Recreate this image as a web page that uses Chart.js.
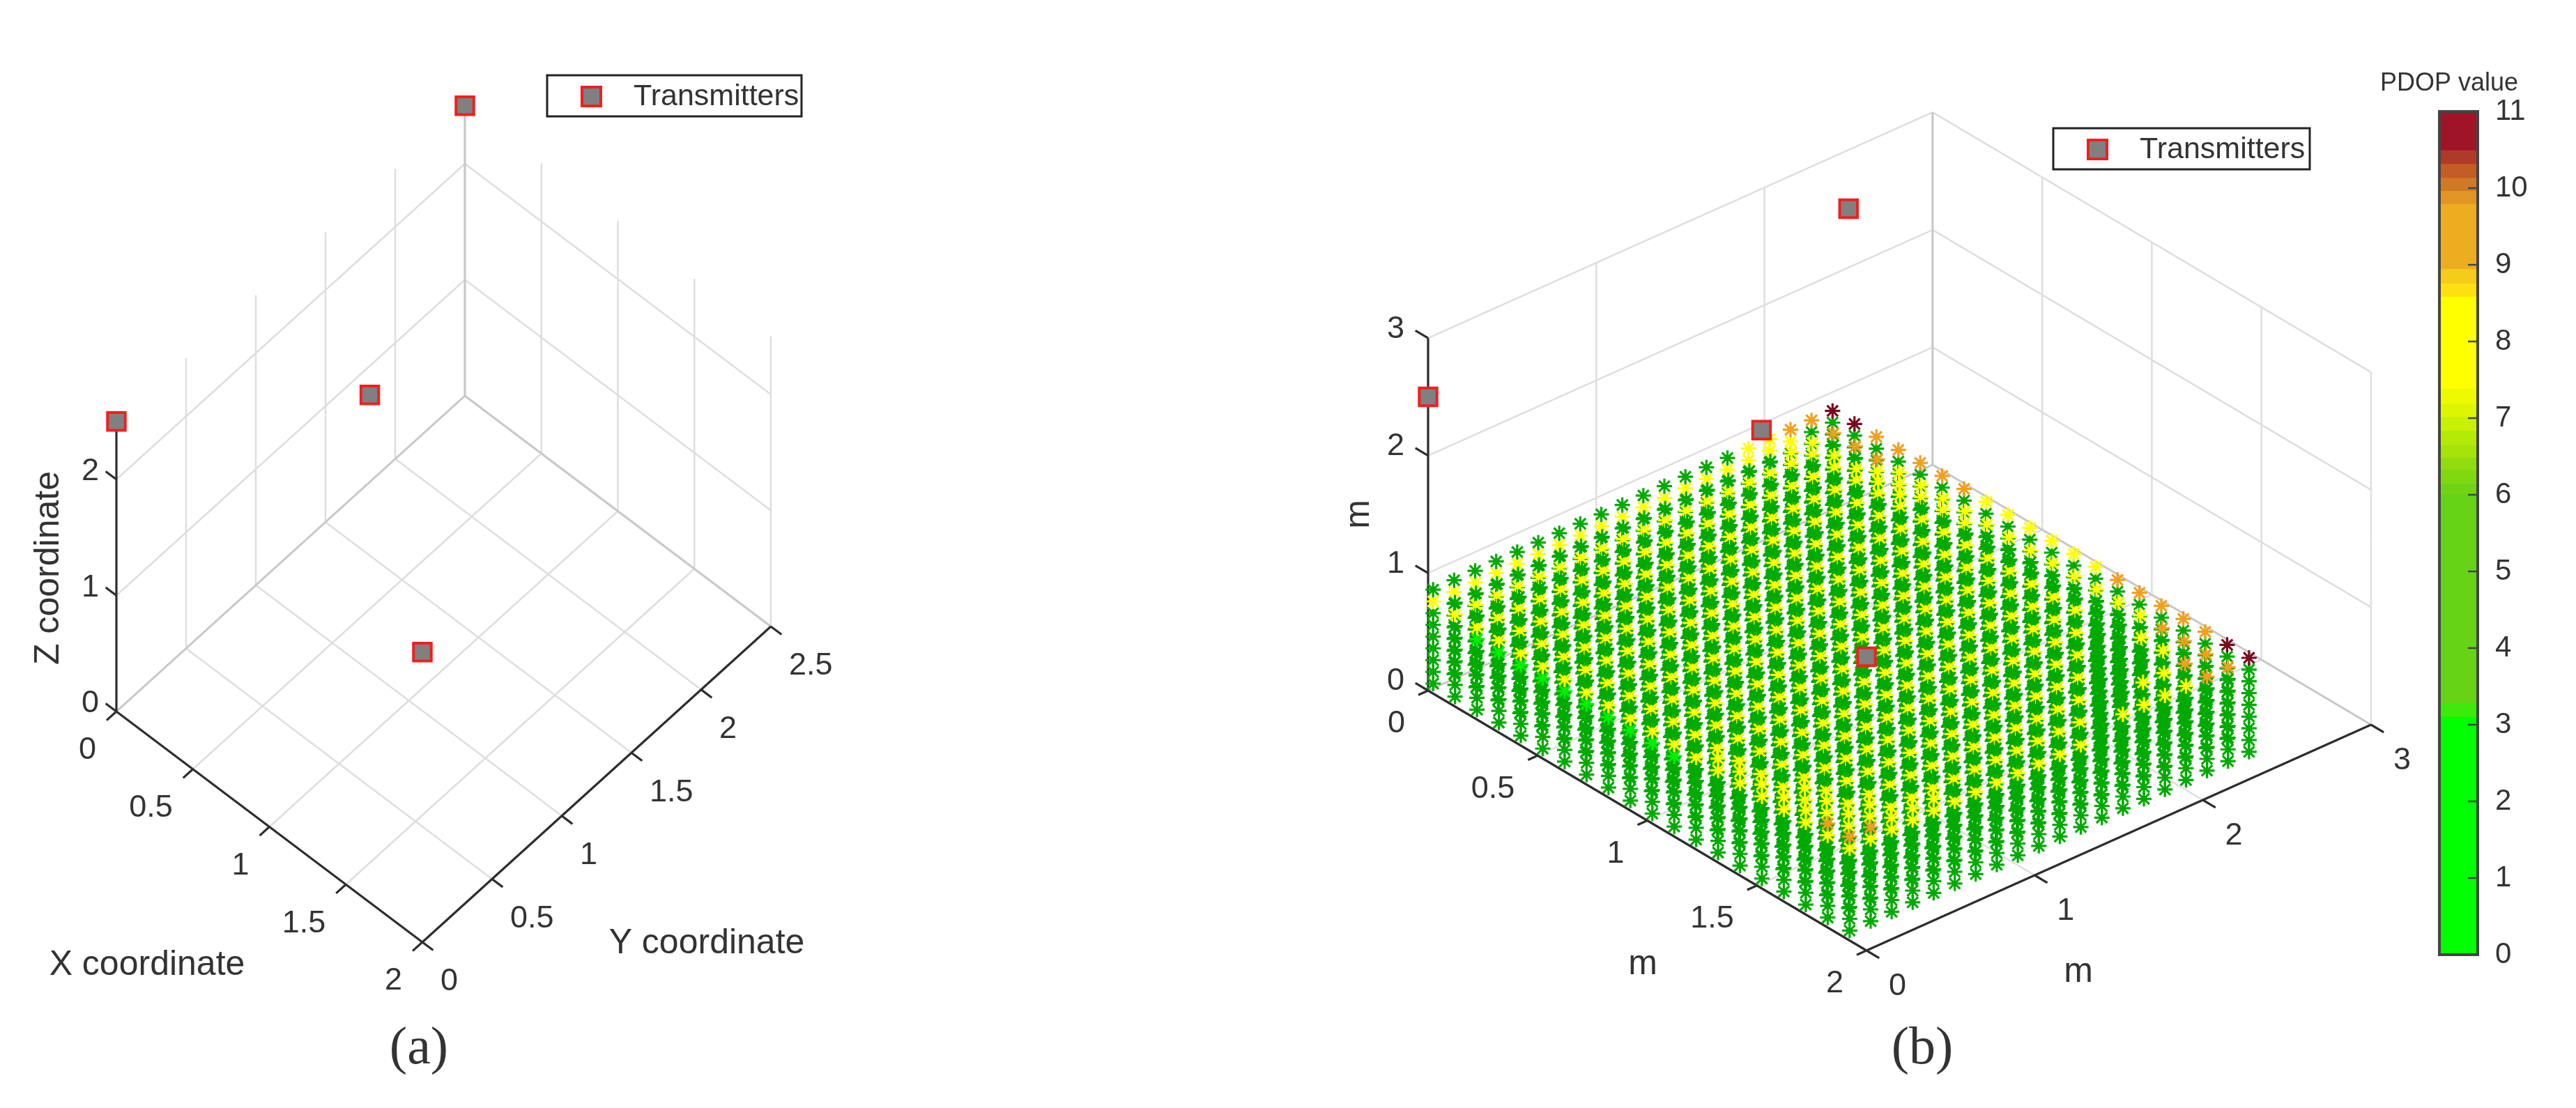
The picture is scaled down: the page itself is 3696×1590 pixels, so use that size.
<!DOCTYPE html>
<html>
<head>
<meta charset="utf-8">
<title>PDOP</title>
<script src="https://cdn.jsdelivr.net/npm/chart.js@4/dist/chart.umd.js"></script>
<style>
  html, body { margin: 0; background: #fff; }
  canvas { position: absolute; top: 0; }
</style>
</head>
<body>
<canvas id="panelA" width="1500" height="1590" style="left:0"></canvas>
<canvas id="panelB" width="2196" height="1590" style="left:1500px"></canvas>
<canvas id="cbar" width="316" height="1590" style="left:3380px"></canvas>
<script>
// transmitters, same room in both panels
const txX = [0, 0, 0.8, 2];
const txY = [0, 2.5, 0.94, 0];
const txZ = [2.5, 2.5, 2.5, 2.5];

// measurement lattice of panel (b)
const xSites = [0, 0.1, 0.2, 0.3, 0.4, 0.5, 0.6, 0.7, 0.8, 0.9, 1, 1.1, 1.2, 1.3, 1.4, 1.5, 1.6, 1.7, 1.8, 1.9];
const ySites = [0.03, 0.155, 0.28, 0.405, 0.53, 0.655, 0.78, 0.905, 1.03, 1.155, 1.28, 1.405, 1.53, 1.655, 1.78, 1.905, 2.03, 2.155, 2.28, 2.405];
const zLayers = [0.04, 0.14, 0.24, 0.34, 0.44, 0.54, 0.64, 0.74, 0.84];

// PDOP of the top layer, one row per xSites entry, one column per ySites entry
const pdopTop = [
  [5,5,5,5,5,5,5,5,5,5,5,5,5,5,5,8,8,9,9,11],
  [5,5,5,5,5,5,5,5,5,5,5,5,5,5,5,5,8,8,9,11],
  [5,5,5,5,5,5,5,5,5,5,5,5,5,5,5,5,5,8,9,9],
  [5,5,5,5,5,5,5,5,5,5,5,5,5,5,5,5,5,8,9,9],
  [5,5,5,5,5,5,5,5,5,5,5,5,5,5,5,5,5,8,8,9],
  [5,5,5,5,5,5,5,5,5,5,5,5,5,5,5,5,5,8,8,9],
  [5,5,5,5,5,5,5,5,5,5,5,5,5,5,5,5,5,5,8,9],
  [5,5,5,5,5,5,5,5,5,5,5,5,5,5,5,5,5,5,8,8],
  [5,5,5,5,5,5,5,5,5,5,5,5,5,5,5,5,5,5,8,8],
  [5,5,5,5,5,5,5,5,5,5,5,5,5,5,5,5,5,5,8,8],
  [5,5,5,5,5,5,5,5,5,5,5,5,5,5,5,5,5,5,8,8],
  [5,5,5,5,5,5,5,5,5,5,5,5,5,5,5,5,5,5,8,8],
  [5,5,5,5,5,5,5,5,5,5,5,5,5,5,5,5,5,5,8,8],
  [8,5,5,5,5,5,5,5,5,5,5,5,5,5,5,5,5,5,8,9],
  [8,5,5,5,5,5,5,5,5,5,5,5,5,5,5,5,5,5,8,9],
  [8,5,5,5,5,5,5,5,5,5,5,5,5,5,5,5,5,5,8,9],
  [8,8,5,5,5,5,5,5,5,5,5,5,5,5,5,5,5,8,9,9],
  [8,8,5,5,5,5,5,5,5,5,5,5,5,5,5,5,5,8,9,9],
  [9,8,8,5,5,5,5,5,5,5,5,5,5,5,5,8,8,9,9,11],
  [9,9,8,8,8,5,5,5,5,5,5,5,5,8,8,8,8,9,9,11]
];

// PDOP of the layer just below it
const pdopMid = [
  [8,8,8,8,8,8,8,8,8,8,8,8,8,8,8,8,8,8,5,5],
  [8,8,8,8,8,8,8,8,8,8,8,8,8,8,8,8,8,8,5,5],
  [8,8,8,8,8,8,8,8,8,8,8,8,8,8,8,8,8,8,5,5],
  [8,8,8,8,8,8,8,8,8,8,8,8,8,8,8,8,8,8,8,5],
  [8,8,8,8,8,8,8,8,8,8,8,8,8,8,8,8,8,8,8,5],
  [8,8,8,8,8,8,8,8,8,8,8,8,8,8,8,8,8,8,8,5],
  [8,8,8,8,8,8,8,8,8,8,8,8,8,8,8,8,8,8,8,5],
  [8,8,8,8,8,8,8,8,8,8,8,8,8,8,8,8,8,8,8,5],
  [8,8,8,8,8,8,8,8,8,8,8,8,8,8,8,8,8,8,5,5],
  [8,8,8,8,8,8,8,8,8,8,8,8,8,8,8,8,8,8,5,5],
  [8,8,8,8,8,8,8,8,8,8,8,8,8,8,8,8,8,8,5,5],
  [8,8,8,8,8,8,8,8,8,8,8,8,8,8,8,8,8,8,5,5],
  [8,8,8,8,8,8,8,8,8,8,8,8,8,8,8,8,8,8,5,5],
  [8,8,8,8,8,8,8,8,8,8,8,8,8,8,8,8,8,8,5,5],
  [8,8,8,8,8,8,8,8,8,8,8,8,8,8,8,8,8,5,5,5],
  [8,8,8,8,8,8,8,8,8,8,8,8,8,8,8,8,5,5,5,5],
  [8,8,8,8,8,8,8,8,8,8,8,8,8,8,8,5,5,5,5,5],
  [8,8,8,8,8,8,8,8,8,8,8,8,8,8,5,5,5,5,5,5],
  [8,8,8,8,8,8,8,8,8,8,8,8,8,5,5,5,5,5,5,5],
  [8,8,8,8,8,8,8,8,8,8,8,8,5,5,5,5,5,5,5,5]
];

// lower layers are a solid green in the picture, read per layer
const pdopLower = [4.4, 4.5, 4.6, 4.8, 5, 5.2, 5.4];
// brighter stars on the front face at the seventh layer
const pdopFront = [5,5,2,2,2,2,2,2,2,2,2,2,5,5,5,5,5,5,5,5];

// colour bar
const cbarEdges = [0, 3.1, 3.27, 6, 6.15, 6.32, 6.48, 6.65, 6.83, 7.01, 7.18, 7.38, 8.58, 8.75, 8.94, 9.79, 9.96, 10.13, 10.31, 10.49, 11];
const cbarColors = ['#00ff00', '#3cea0c', '#66d414', '#70d414', '#80d810', '#90dc0c', '#a4e408', '#b4ea06', '#c8f004', '#dcf602', '#eefa00',
  '#ffff00', '#fde010', '#f5cc18', '#ecae20', '#e09525', '#d07a25', '#c45c25', '#b03a28', '#a01428'];
const cbarTicks = [0, 1, 2, 3, 4, 5, 6, 7, 8, 9, 10, 11];

// axis ticks
const xTicks = [0, 0.5, 1, 1.5, 2];
const yTicksA = [0, 0.5, 1, 1.5, 2, 2.5];
const zTicksA = [0, 1, 2];
const yTicksB = [0, 1, 2, 3];
const zTicksB = [0, 1, 2, 3];

const FONT = '"Liberation Sans", Arial, sans-serif';
const INK = '#333333';

function starColor(v) {
  if (v < 3) return '#00f000';
  if (v < 7) return '#00aa00';
  if (v < 8.9) return '#ffff00';
  if (v < 10) return '#f0a01e';
  return '#7a0a1e';
}

// orthographic view of each panel, pixels per data unit
function makeView(ox, oy, xv, yv, zv) {
  return (x, y, z) => ({ x: ox + x * xv[0] + y * yv[0], y: oy + x * xv[1] + y * yv[1] - z * zv });
}
const viewA = makeView(167, 1021, [219.5, 165.5], [200, -181.2], 166.5);
const viewB = makeView(2049, 991, [314.5, 186.5], [241.3, -108], 168.6);

function segments(view, list) {
  const out = [];
  list.forEach((s) => {
    out.push(view(...s[0]), view(...s[1]), { x: null, y: null });
  });
  return out;
}

function lineSet(data, color, width) {
  return { type: 'line', data, borderColor: color, borderWidth: width, pointRadius: 0, spanGaps: false, clip: false };
}

// first dataset is painted last by Chart.js, so dark axes come before the grid
function boxDatasets(view, yTicks, zTicks, xMax, yMax, zMax, tick) {
  const light = [];
  xTicks.forEach((v) => {
    light.push([[v, 0, 0], [v, yMax, 0]], [[v, yMax, 0], [v, yMax, zMax]]);
  });
  yTicks.forEach((v) => {
    light.push([[0, v, 0], [xMax, v, 0]], [[0, v, 0], [0, v, zMax]]);
  });
  zTicks.forEach((v) => {
    if (v > 0) light.push([[0, 0, v], [0, yMax, v]], [[0, yMax, v], [xMax, yMax, v]]);
  });
  const edge = [
    [[0, 0, 0], [0, yMax, 0]],
    [[0, yMax, 0], [xMax, yMax, 0]],
    [[0, yMax, 0], [0, yMax, zMax]]
  ];
  const dark = [
    [[0, 0, 0], [xMax, 0, 0]],
    [[xMax, 0, 0], [xMax, yMax, 0]],
    [[0, 0, 0], [0, 0, zMax]]
  ];
  xTicks.forEach((v) => dark.push([[v, 0, 0], [v, -tick, 0]]));
  yTicks.forEach((v) => dark.push([[xMax, v, 0], [xMax + tick, v, 0]]));
  zTicks.forEach((v) => dark.push([[0, 0, v], [-tick, 0, v]]));
  return [
    lineSet(segments(view, dark), '#2e2e2e', 3.2),
    lineSet(segments(view, edge), '#c8c8c8', 3),
    lineSet(segments(view, light), '#dedede', 2.5)
  ];
}

function txDataset(view) {
  return {
    type: 'scatter',
    data: txX.map((x, i) => view(x, txY[i], txZ[i])),
    pointStyle: 'rect',
    pointRadius: 18,
    pointBorderWidth: 4,
    pointBackgroundColor: '#808080',
    pointBorderColor: '#f02020',
    clip: false
  };
}

function starDataset() {
  const data = [];
  const colors = [];
  zLayers.forEach((z, k) => {
    xSites.forEach((x, i) => {
      for (let j = ySites.length - 1; j >= 0; j--) {
        let v = pdopLower[k];
        if (k === 8) v = pdopTop[i][j];
        if (k === 7) v = pdopMid[i][j];
        if (k === 6 && j === 0) v = pdopFront[i];
        data.push(viewB(x, ySites[j], z));
        colors.push(starColor(v));
      }
    });
  });
  return {
    type: 'scatter',
    data,
    pointStyle: 'star',
    pointRadius: 11,
    pointBorderWidth: 3.2,
    pointBorderColor: colors,
    clip: false
  };
}

// tick labels, axis titles, legend and panel letters
function annotations(left, view, spec) {
  return {
    id: 'annotations',
    afterDraw(chart) {
      const ctx = chart.ctx;
      ctx.save();
      ctx.translate(-left, 0);
      ctx.fillStyle = INK;
      ctx.textBaseline = 'middle';
      ctx.font = '45px ' + FONT;
      ctx.textAlign = 'right';
      xTicks.forEach((v) => {
        const p = view(v, 0, 0);
        ctx.fillText(String(v), p.x + spec.xOff[0], p.y + spec.xOff[1]);
      });
      spec.zTicks.forEach((v) => {
        const p = view(0, 0, v);
        ctx.fillText(String(v), p.x + spec.zOff[0], p.y + spec.zOff[1]);
      });
      ctx.textAlign = 'left';
      spec.yTicks.forEach((v) => {
        const p = view(2, v, 0);
        ctx.fillText(String(v), p.x + spec.yOff[0], p.y + spec.yOff[1]);
      });
      ctx.textAlign = 'center';
      ctx.font = '50px ' + FONT;
      ctx.fillText(spec.xLabel, spec.xAt[0], spec.xAt[1]);
      ctx.fillText(spec.yLabel, spec.yAt[0], spec.yAt[1]);
      ctx.save();
      ctx.translate(spec.zAt[0], spec.zAt[1]);
      ctx.rotate(-Math.PI / 2);
      ctx.fillText(spec.zLabel, 0, 0);
      ctx.restore();
      // legend box
      const b = spec.legend;
      ctx.fillStyle = '#fff';
      ctx.fillRect(b[0], b[1], b[2], b[3]);
      ctx.strokeStyle = '#222';
      ctx.lineWidth = 3;
      ctx.strokeRect(b[0], b[1], b[2], b[3]);
      ctx.fillStyle = '#808080';
      ctx.fillRect(b[0] + 50, b[1] + 17, 27, 27);
      ctx.strokeStyle = '#f02020';
      ctx.lineWidth = 4;
      ctx.strokeRect(b[0] + 50, b[1] + 17, 27, 27);
      ctx.fillStyle = INK;
      ctx.textAlign = 'left';
      ctx.font = '43px ' + FONT;
      ctx.fillText('Transmitters', b[0] + 124, b[1] + b[3] / 2 + 2);
      ctx.textAlign = 'center';
      ctx.font = '76px "Liberation Serif", serif';
      ctx.fillText(spec.letter[0], spec.letter[1], spec.letter[2]);
      ctx.restore();
    }
  };
}

function panelOptions(left, width) {
  return {
    responsive: false,
    animation: false,
    events: [],
    layout: { padding: 0, autoPadding: false },
    plugins: { legend: { display: false }, tooltip: { enabled: false } },
    scales: {
      x: { type: 'linear', display: false, min: left, max: left + width },
      y: { type: 'linear', display: false, min: 0, max: 1590, reverse: true }
    }
  };
}

const chartA = new Chart(document.getElementById('panelA'), {
  type: 'scatter',
  data: { datasets: [txDataset(viewA), ...boxDatasets(viewA, yTicksA, zTicksA, 2, 2.5, 2.5, 0.07)] },
  options: panelOptions(0, 1500),
  plugins: [annotations(0, viewA, {
    xOff: [-29, 56], yOff: [26, 57], zOff: [-25, -11],
    yTicks: yTicksA, zTicks: zTicksA,
    xLabel: 'X coordinate', yLabel: 'Y coordinate', zLabel: 'Z coordinate',
    xAt: [211, 1385], yAt: [1014, 1354], zAt: [70, 815],
    legend: [785, 108, 365, 59], letter: ['(a)', 601, 1506]
  })]
});

const chartB = new Chart(document.getElementById('panelB'), {
  type: 'scatter',
  data: { datasets: [txDataset(viewB), starDataset(), ...boxDatasets(viewB, yTicksB, zTicksB, 2, 3, 3, 0.058)] },
  options: panelOptions(1500, 2196),
  plugins: [annotations(1500, viewB, {
    xOff: [-33, 48], yOff: [32, 52], zOff: [-34, -13],
    yTicks: yTicksB, zTicks: zTicksB,
    xLabel: 'm', yLabel: 'm', zLabel: 'm',
    xAt: [2357, 1384], yAt: [2982, 1395], zAt: [1950, 738],
    legend: [2946, 184, 368, 59], letter: ['(b)', 2758, 1506]
  })]
});

const chartC = new Chart(document.getElementById('cbar'), {
  type: 'bar',
  data: {
    labels: ['PDOP'],
    datasets: cbarColors.map((c, i) => ({
      data: [cbarEdges[i + 1] - cbarEdges[i]],
      backgroundColor: c,
      borderWidth: 0,
      barPercentage: 1,
      categoryPercentage: 1
    }))
  },
  options: {
    responsive: false,
    animation: false,
    events: [],
    layout: { padding: { left: 120, top: 160, bottom: 220, right: 0 } },
    plugins: { legend: { display: false }, tooltip: { enabled: false } },
    scales: {
      x: { stacked: true, display: false },
      y: {
        stacked: true,
        position: 'right',
        min: 0,
        max: 11,
        afterFit(scale) { scale.width = 141; },
        border: { display: false },
        grid: { display: false },
        afterBuildTicks(scale) { scale.ticks = cbarTicks.map((value) => ({ value })); },
        ticks: { color: INK, padding: 17, font: { family: FONT, size: 42 } }
      }
    }
  },
  plugins: [{
    id: 'cbarFrame',
    afterDraw(chart) {
      const { ctx, chartArea: a, scales } = chart;
      ctx.save();
      ctx.strokeStyle = '#444';
      ctx.lineWidth = 4;
      ctx.strokeRect(a.left, a.top, a.right - a.left, a.bottom - a.top);
      ctx.lineWidth = 2.5;
      cbarTicks.forEach((v) => {
        const py = scales.y.getPixelForValue(v);
        ctx.beginPath();
        ctx.moveTo(a.right - 14, py);
        ctx.lineTo(a.right, py);
        ctx.stroke();
      });
      ctx.fillStyle = INK;
      ctx.font = '36px ' + FONT;
      ctx.textAlign = 'center';
      ctx.textBaseline = 'middle';
      ctx.fillText('PDOP value', 134, 120);
      ctx.restore();
    }
  }]
});
</script>
</body>
</html>
